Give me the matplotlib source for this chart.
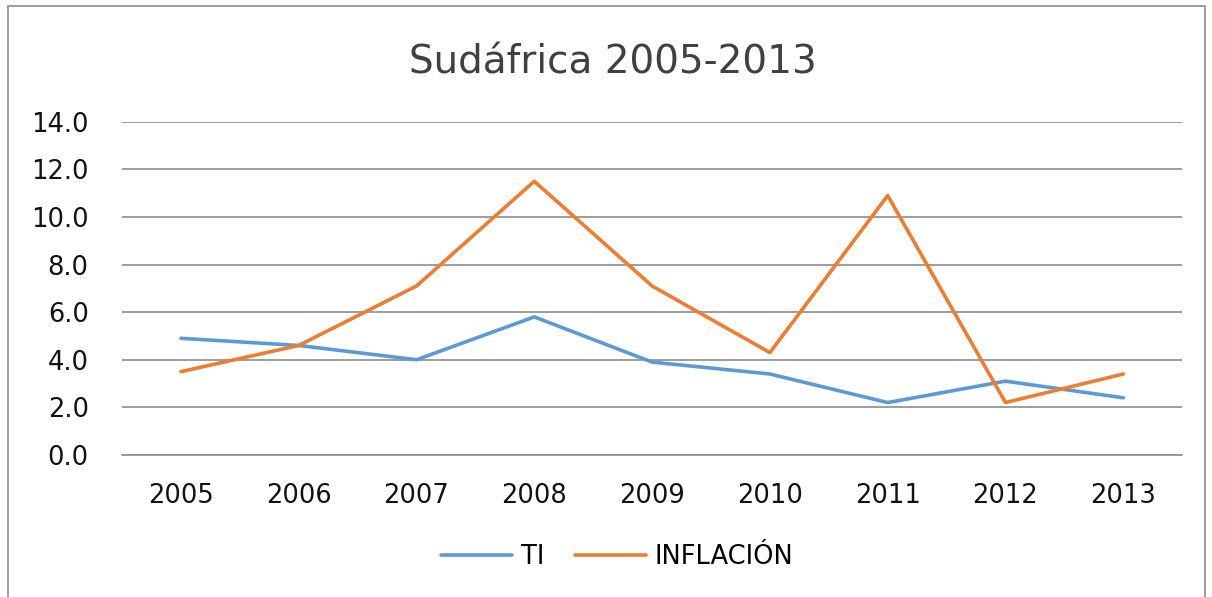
import numpy as np
import matplotlib.pyplot as plt
from matplotlib.patches import Rectangle

years = ['2005', '2006', '2007', '2008', '2009', '2010', '2011', '2012', '2013']
ti = [4.9, 4.6, 4.0, 5.8, 3.9, 3.4, 2.2, 3.1, 2.4]
inflacion = [3.5, 4.6, 7.1, 11.5, 7.1, 4.3, 10.9, 2.2, 3.4]

plt.rcParams['font.family'] = ['DejaVu Sans']

fig = plt.figure(figsize=(12.12, 5.97), dpi=100)
ax = fig.add_axes([0.1007, 0.238, 0.8747, 0.558])

x = np.arange(len(years))
ax.plot(x, ti, color='#5B9BD5', lw=2.6, label='TI', solid_capstyle='round')
ax.plot(x, inflacion, color='#ED7D31', lw=2.6, label='INFLACIÓN', solid_capstyle='round')

ax.set_xlim(-0.5, len(years) - 0.5)
ax.set_ylim(0, 14)
ax.set_yticks(np.arange(0, 14.1, 2))
ax.set_yticklabels(['%.1f' % v for v in np.arange(0, 14.1, 2)])
ax.set_xticks(x)
ax.set_xticklabels(years)
ax.tick_params(axis='both', length=0, labelsize=18.5, colors='#111111')
ax.tick_params(axis='x', pad=20)
ax.tick_params(axis='y', pad=24)
ax.grid(axis='y', color='#8c8c8c', lw=1.2)
ax.set_axisbelow(True)
for s in ['top', 'right', 'left']:
    ax.spines[s].set_visible(False)
ax.spines['bottom'].set_color('#8c8c8c')
ax.spines['bottom'].set_linewidth(1.2)

fig.text(0.506, 0.896, 'Sudáfrica 2005-2013', ha='center', va='center', fontsize=28, color='#404040')

fig.legend(loc='center', bbox_to_anchor=(0.5095, 0.067), ncol=2, frameon=False,
           fontsize=18.5, handlelength=2.75, columnspacing=1.2, handletextpad=0.35)

# chart border
fig.patches.append(Rectangle((0.007, -0.01), 0.987, 1.0, transform=fig.transFigure,
                             fill=False, edgecolor='#8c8c8c', lw=1.2))

fig.savefig('out.png', dpi=100)
